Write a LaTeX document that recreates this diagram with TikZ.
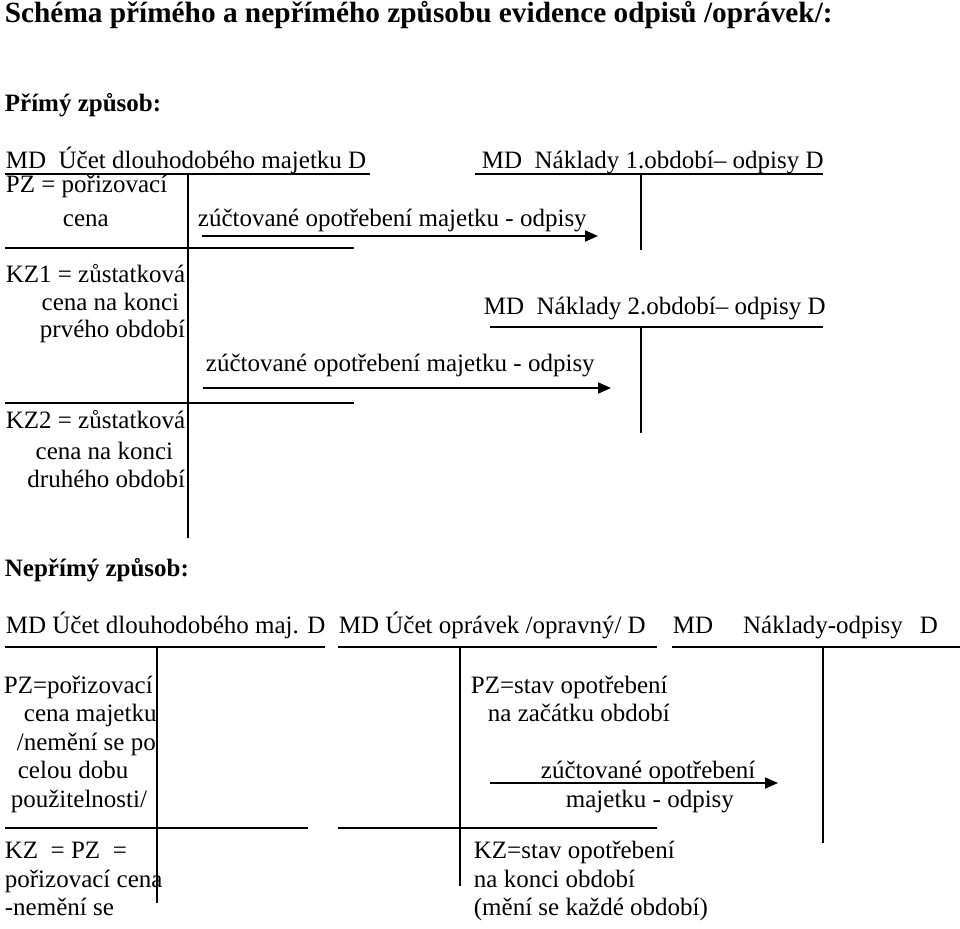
\documentclass[tikz,border=0pt]{standalone}
\usepackage{fontspec}
\setmainfont{Liberation Serif}
\usetikzlibrary{arrows.meta}
\begin{document}
\begin{tikzpicture}[x=1pt,y=-1pt, line width=1.8pt,
  txt/.style={anchor=base west, inner sep=0pt, font=\fontsize{25}{30}\selectfont},
  txr/.style={anchor=base east, inner sep=0pt, font=\fontsize{25}{30}\selectfont},
  ttl/.style={anchor=base west, inner sep=0pt, font=\fontsize{29.3}{34}\selectfont\bfseries},
  hd/.style={anchor=base west, inner sep=0pt, font=\fontsize{25}{30}\selectfont\bfseries},
  arr/.style={-{Triangle[length=13pt,width=11pt]}}]
\useasboundingbox (0,0) rectangle (960,928);

% Title
\node[ttl] (title) at (4,23) {Schéma přímého a nepřímého způsobu evidence odpisů /oprávek/:};
\node[hd] (prim) at (4,112) {Přímý způsob:};

% ---------- Direct method ----------
\node[txt] (h1) at (5,168) {MD\ \ Účet dlouhodobého majetku D};
\node[txt] (n1) at (481,168) {MD\ \ Náklady 1.období– odpisy D};
\coordinate (u1a) at (5,174);   \coordinate (u1b) at (370,174);
\coordinate (v1a) at (188,174); \coordinate (v1b) at (188,538);
\coordinate (un1a) at (475,174); \coordinate (un1b) at (823,174);
\coordinate (vn1a) at (641,174); \coordinate (vn1b) at (641,250);
\draw (u1a) -- (u1b);
\draw (v1a) -- (v1b);
\draw (un1a) -- (un1b);
\draw (vn1a) -- (vn1b);

\node[txt] (pz) at (5,193) {PZ = pořizovací};
\node[txt] (cena) at (62,226) {cena};
\node[txt] (z1) at (197,226) {zúčtované opotřebení majetku - odpisy};
\coordinate (a1s) at (202,236); \coordinate (a1e) at (598,236);
\draw[arr] (a1s) -- (a1e);
\coordinate (h2a) at (5,248); \coordinate (h2b) at (354,248);
\draw (h2a) -- (h2b);

\node[txr] (kz1a) at (186,282) {KZ1 = zůstatková};
\node[txr] (kz1b) at (180,310) {cena na konci};
\node[txr] (kz1c) at (186,337) {prvého období};

\node[txt] (n2) at (483,314) {MD\ \ Náklady 2.období– odpisy D};
\coordinate (un2a) at (490,327); \coordinate (un2b) at (823,327);
\coordinate (vn2a) at (641,327); \coordinate (vn2b) at (641,433);
\draw (un2a) -- (un2b);
\draw (vn2a) -- (vn2b);

\node[txt] (z2) at (205,371) {zúčtované opotřebení majetku - odpisy};
\coordinate (a2s) at (203,388); \coordinate (a2e) at (611,388);
\draw[arr] (a2s) -- (a2e);
\coordinate (h3a) at (5,403); \coordinate (h3b) at (354,403);
\draw (h3a) -- (h3b);

\node[txr] (kz2a) at (186,428) {KZ2 = zůstatková};
\node[txr] (kz2b) at (174,459) {cena na konci};
\node[txr] (kz2c) at (186,487) {druhého období};

% ---------- Indirect method ----------
\node[hd] (neprim) at (4,576) {Nepřímý způsob:};

\node[txt] (b1) at (5,633) {MD Účet dlouhodobého maj. D};
\node[txt] (b2) at (338,633) {MD Účet oprávek /opravný/ D};
\node[txt] (b3) at (672,633) {MD\hspace{30pt}Náklady-odpisy\hspace{17pt}D};

\coordinate (ub1a) at (5,647);   \coordinate (ub1b) at (325,647);
\coordinate (ub2a) at (338,647); \coordinate (ub2b) at (657,647);
\coordinate (ub3a) at (672,647); \coordinate (ub3b) at (960,647);
\draw (ub1a) -- (ub1b);
\draw (ub2a) -- (ub2b);
\draw (ub3a) -- (ub3b);
\coordinate (vb1a) at (157,647); \coordinate (vb1b) at (157,903);
\coordinate (vb2a) at (460,647); \coordinate (vb2b) at (460,886);
\coordinate (vb3a) at (823,647); \coordinate (vb3b) at (823,843);
\draw (vb1a) -- (vb1b);
\draw (vb2a) -- (vb2b);
\draw (vb3a) -- (vb3b);

\node[txt] (l1) at (3,693) {PZ=pořizovací};
\node[txt] (l2) at (23,721) {cena majetku};
\node[txt] (l3) at (16,750) {/nemění se po};
\node[txt] (l4) at (17,778) {celou dobu};
\node[txt] (l5) at (10,807) {použitelnosti/};

\node[txt] (r1) at (470,693) {PZ=stav opotřebení};
\node[txt] (r2) at (487,721) {na začátku období};
\node[txt] (r3) at (540,778) {zúčtované opotřebení};
\coordinate (a3s) at (490,783); \coordinate (a3e) at (778,783);
\draw[arr] (a3s) -- (a3e);
\node[txt] (r4) at (565,807) {majetku - odpisy};

\coordinate (hb1a) at (5,828);   \coordinate (hb1b) at (308,828);
\coordinate (hb2a) at (338,828); \coordinate (hb2b) at (657,828);
\draw (hb1a) -- (hb1b);
\draw (hb2a) -- (hb2b);

\node[txt] (k1) at (4,858) {KZ\ \ = PZ\ \ =};
\node[txt] (k2) at (4,887) {pořizovací cena};
\node[txt] (k3) at (4,915) {-nemění se};

\node[txt] (q1) at (473,858) {KZ=stav opotřebení};
\node[txt] (q2) at (473,887) {na konci období};
\node[txt] (q3) at (473,915) {(mění se každé období)};
\end{tikzpicture}
\end{document}
